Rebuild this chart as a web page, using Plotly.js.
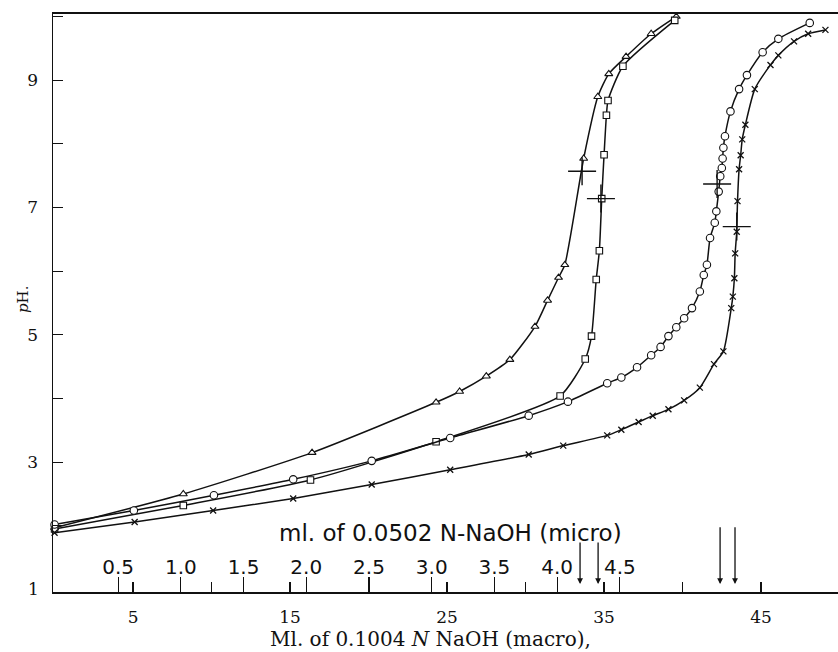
<!DOCTYPE html>
<html><head><meta charset="utf-8">
<script src="https://cdn.plot.ly/plotly-3.0.1.min.js"></script>
<style>html,body{margin:0;padding:0;background:#fff}</style>
</head><body><div id="chart" style="width:838px;height:652px"></div>
<script>
// Triangle series
const triX = [0, 8.2, 16.4, 24.3, 25.8, 27.5, 29.0, 30.6, 31.4, 32.1, 32.5, 33.7, 34.6, 35.3, 36.4, 38.0, 39.6];
const triY = [1.97, 2.50, 3.15, 3.94, 4.11, 4.35, 4.61, 5.13, 5.54, 5.90, 6.10, 7.77, 8.74, 9.10, 9.37, 9.73, 10.0];
// Square series
const sqX = [0, 8.2, 16.3, 24.3, 32.2, 33.8, 34.2, 34.5, 34.7, 34.85, 35.0, 35.15, 35.25, 36.2, 39.5];
const sqY = [1.95, 2.32, 2.72, 3.32, 4.04, 4.62, 4.98, 5.87, 6.32, 7.14, 7.83, 8.45, 8.68, 9.22, 9.94];
// Circle series
const cirX = [0, 5.05, 10.15, 15.2, 20.2, 25.2, 30.2, 32.7, 35.2, 36.1, 37.1, 38.0, 38.6, 39.1, 39.6, 40.1, 40.6, 41.1, 41.35, 41.55, 41.75, 42.05, 42.15, 42.3, 42.4, 42.5, 42.55, 42.6, 42.7, 43.05, 43.6, 44.1, 45.1, 46.1, 48.1];
const cirY = [2.02, 2.24, 2.48, 2.73, 3.02, 3.38, 3.73, 3.95, 4.24, 4.33, 4.49, 4.68, 4.81, 4.98, 5.12, 5.26, 5.42, 5.68, 5.94, 6.10, 6.52, 6.76, 6.94, 7.25, 7.49, 7.62, 7.77, 7.94, 8.12, 8.51, 8.86, 9.08, 9.44, 9.65, 9.90];
// Cross (x) series
const xsX = [0, 5.1, 10.1, 15.2, 20.2, 25.2, 30.2, 32.4, 35.2, 36.1, 37.2, 38.1, 39.1, 40.1, 41.1, 42.0, 42.6, 43.1, 43.2, 43.3, 43.35, 43.45, 43.5, 43.6, 43.7, 43.8, 44.0, 44.6, 45.6, 46.1, 47.1, 48.0, 49.1];
const xsY = [1.89, 2.06, 2.24, 2.43, 2.65, 2.88, 3.12, 3.26, 3.42, 3.51, 3.63, 3.73, 3.83, 3.97, 4.17, 4.54, 4.74, 5.42, 5.60, 5.89, 6.28, 6.62, 7.10, 7.60, 7.82, 8.07, 8.30, 8.86, 9.24, 9.39, 9.61, 9.73, 9.79];
// Midpoint crosses on each curve
const markX = [33.6, 34.8, 42.2, 43.45];
const markY = [7.57, 7.14, 7.37, 6.70];
// End-point arrows (macro ml) and their upper ends (pH units)
const arrowX = [33.47, 34.62, 42.39, 43.34];
const arrowTop = [1.76, 1.76, 2.0, 2.0];
// Axis ticks
const macroTicks = [5, 10, 15, 20, 25, 30, 35, 40, 45];
const macroLabels = ['5', '', '15', '', '25', '', '35', '', '45'];
const microTicks = [0.5, 1.0, 1.5, 2.0, 2.5, 3.0, 3.5, 4.0, 4.5];
const microLabels = ['0.5', '1.0', '1.5', '2.0', '2.5', '3.0', '3.5', '4.0', '4.5'];
const pHTicks = [1, 2, 3, 4, 5, 6, 7, 8, 9, 10];
const pHLabels = ['1', '', '3', '', '5', '', '7', '', '9', ''];

const lineStyle = {color: '#111', width: 1.5, shape: 'spline', smoothing: 0.6};
function series(x, y, sym, size) {
  return {x: x, y: y, type: 'scatter', mode: 'lines+markers', line: lineStyle,
    marker: {symbol: sym, size: size, color: '#fff', line: {color: '#111', width: 1.1}},
    hoverinfo: 'skip', cliponaxis: false};
}
const traces = [
  series(triX, triY, 'triangle-up', 7),
  series(sqX, sqY, 'square', 6.5),
  series(cirX, cirY, 'circle', 7.5),
  {x: xsX, y: xsY, type: 'scatter', mode: 'lines+markers', line: lineStyle,
   marker: {symbol: 'x-thin', size: 6, color: '#111', line: {color: '#111', width: 1.3}}, hoverinfo: 'skip', cliponaxis: false},
  {x: markX, y: markY, type: 'scatter', mode: 'markers',
   marker: {symbol: 'cross-thin', size: 20, color: '#111', line: {color: '#111', width: 1.4}}, hoverinfo: 'skip'},
  {x: microTicks, y: microTicks.map(() => null), xaxis: 'x2', yaxis: 'y', type: 'scatter', mode: 'markers', hoverinfo: 'skip'}
];

const L = 53, T = 14, W = 785, H = 578;
function px(xp) { return (xp - L) / W; }
function py(yp) { return (T + H - yp) / H; }

const annotations = arrowX.map((xv, i) => ({
  x: xv, y: 0.96, xref: 'x', yref: 'y', ax: xv, ay: arrowTop[i], axref: 'x', ayref: 'y',
  text: '', showarrow: true, arrowhead: 2, arrowsize: 0.9, arrowwidth: 1.3, arrowcolor: '#111', standoff: 8
}));
annotations.push({x: px(450), y: py(533), xref: 'paper', yref: 'paper', xanchor: 'center', yanchor: 'middle',
  text: 'ml. of 0.0502 N-NaOH (micro)', showarrow: false,
  font: {family: 'DejaVu Sans', size: 23, color: '#111'}});
annotations.push({x: px(23), y: py(300), xref: 'paper', yref: 'paper', xanchor: 'center', yanchor: 'middle',
  text: '<i>p</i>H.', showarrow: false, textangle: -90,
  font: {family: 'DejaVu Serif', size: 15, color: '#111'}});
annotations.push({x: px(430), y: py(639), xref: 'paper', yref: 'paper', xanchor: 'center', yanchor: 'middle',
  text: 'Ml. of 0.1004 <i>N</i> NaOH (macro),', showarrow: false,
  font: {family: 'DejaVu Serif', size: 20, color: '#111'}});
// bottom y tick label (pH 1) sits on the x axis line; Plotly drops it there, so place it at its tick value
annotations.push({x: px(33), y: pHTicks[0], xref: 'paper', yref: 'y', xanchor: 'center', yanchor: 'middle',
  text: pHLabels[0], showarrow: false, font: {family: 'DejaVu Serif', size: 17, color: '#111'}});

const layout = {
  width: 838, height: 652,
  margin: {l: L, r: 0, t: T, b: 60, pad: 0},
  paper_bgcolor: '#fff', plot_bgcolor: '#fff',
  showlegend: false,
  xaxis: {range: [-0.1, 49.9], showgrid: false, zeroline: false, showline: true, linecolor: '#111', linewidth: 2,
    mirror: true, ticks: 'inside', ticklen: 10, tickwidth: 1.2, tickcolor: '#111',
    tickvals: macroTicks, ticktext: macroLabels, ticklabelstandoff: 9,
    tickfont: {family: 'DejaVu Serif', size: 17, color: '#111'}},
  xaxis2: {overlaying: 'x', anchor: 'y', side: 'bottom', range: [-0.019, 6.239], showgrid: false, zeroline: false,
    showline: false, ticks: 'inside', ticklen: 15, tickwidth: 1.2, tickcolor: '#111',
    tickvals: microTicks, ticktext: microLabels, ticklabelposition: 'inside',
    tickfont: {family: 'DejaVu Sans', size: 20, color: '#111'}},
  yaxis: {range: [0.96, 10.04], showgrid: false, zeroline: false, showline: true, linecolor: '#111', linewidth: 1.5,
    ticks: 'inside', ticklen: 10, tickwidth: 1.2, tickcolor: '#111', tickvals: pHTicks.slice(1).concat([]), ticktext: pHLabels.slice(1),
    ticklabelstandoff: 10, tickfont: {family: 'DejaVu Serif', size: 17, color: '#111'}},
  annotations: annotations
};
Plotly.newPlot('chart', traces, layout, {staticPlot: true, displayModeBar: false});
</script></body></html>
